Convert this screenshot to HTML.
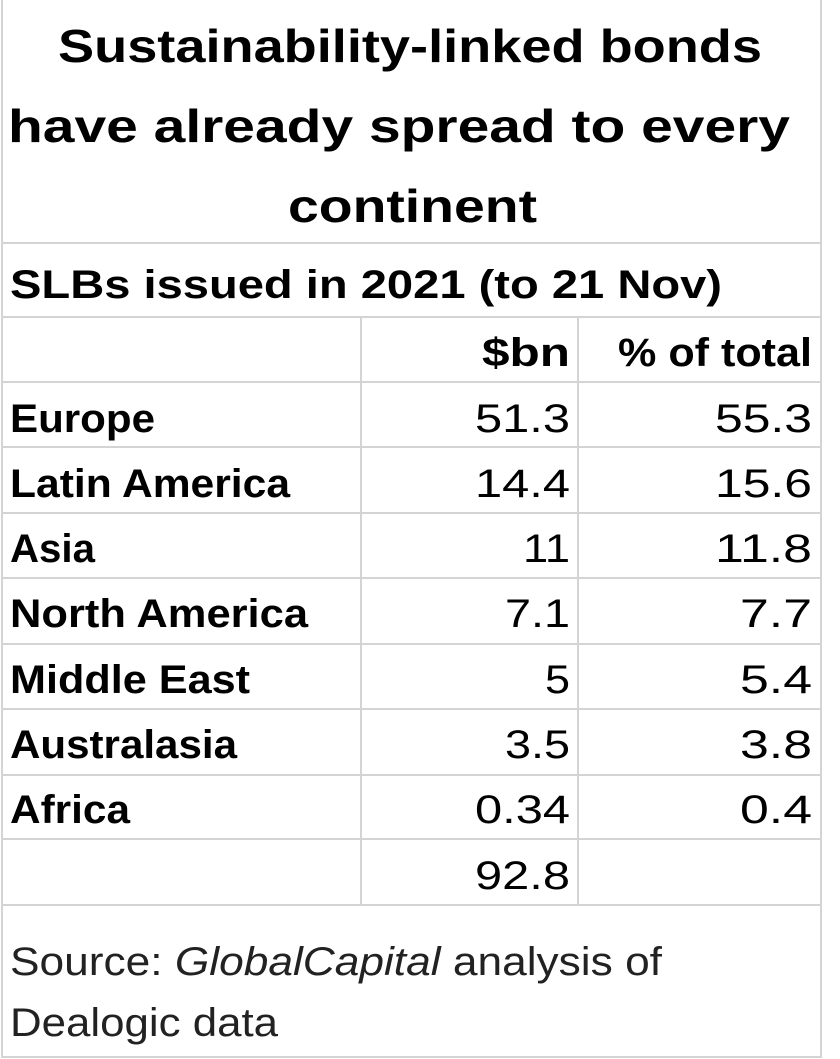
<!DOCTYPE html>
<html><head><style>html,body{margin:0;padding:0;background:#fff}svg{display:block}</style></head>
<body>
<svg width="840" height="1059" xmlns="http://www.w3.org/2000/svg" font-family="Liberation Sans, sans-serif" fill="#000">
<g stroke="#d4d4d4" stroke-width="2">
<line x1="2" y1="0" x2="2" y2="1058"/>
<line x1="821" y1="0" x2="821" y2="1058"/>
<line x1="2" y1="1057" x2="821" y2="1057"/>
<line x1="2" y1="243" x2="821" y2="243"/>
<line x1="2" y1="317" x2="821" y2="317"/>
<line x1="2" y1="382" x2="821" y2="382"/>
<line x1="2" y1="447" x2="821" y2="447"/>
<line x1="2" y1="513" x2="821" y2="513"/>
<line x1="2" y1="578" x2="821" y2="578"/>
<line x1="2" y1="644" x2="821" y2="644"/>
<line x1="2" y1="709" x2="821" y2="709"/>
<line x1="2" y1="775" x2="821" y2="775"/>
<line x1="2" y1="839" x2="821" y2="839"/>
<line x1="2" y1="905" x2="821" y2="905"/>
<line x1="361" y1="317" x2="361" y2="905"/>
<line x1="578" y1="317" x2="578" y2="905"/>
</g>
<g font-weight="bold" font-size="46">
<text x="58" y="62" textLength="704" lengthAdjust="spacingAndGlyphs">Sustainability-linked bonds</text>
<text x="8" y="142" textLength="782" lengthAdjust="spacingAndGlyphs">have already spread to every</text>
<text x="288" y="222" textLength="249" lengthAdjust="spacingAndGlyphs">continent</text>
</g>
<g font-weight="bold" font-size="40">
<text x="10" y="298" textLength="712" lengthAdjust="spacingAndGlyphs">SLBs issued in 2021 (to 21 Nov)</text>
<text x="482" y="366" textLength="88" lengthAdjust="spacingAndGlyphs">$bn</text>
<text x="618" y="366" textLength="194" lengthAdjust="spacingAndGlyphs">% of total</text>
<text x="10" y="432" textLength="145" lengthAdjust="spacingAndGlyphs">Europe</text>
<text x="10" y="497" textLength="280" lengthAdjust="spacingAndGlyphs">Latin America</text>
<text x="10" y="562" textLength="85" lengthAdjust="spacingAndGlyphs">Asia</text>
<text x="10" y="627" textLength="298" lengthAdjust="spacingAndGlyphs">North America</text>
<text x="10" y="693" textLength="240" lengthAdjust="spacingAndGlyphs">Middle East</text>
<text x="10" y="758" textLength="227" lengthAdjust="spacingAndGlyphs">Australasia</text>
<text x="10" y="823" textLength="120" lengthAdjust="spacingAndGlyphs">Africa</text>
</g>
<g font-size="40">
<text x="475" y="432" textLength="95" lengthAdjust="spacingAndGlyphs">51.3</text>
<text x="475" y="497" textLength="95" lengthAdjust="spacingAndGlyphs">14.4</text>
<text x="523" y="562" textLength="47" lengthAdjust="spacingAndGlyphs">11</text>
<text x="505" y="627" textLength="65" lengthAdjust="spacingAndGlyphs">7.1</text>
<text x="545" y="693" textLength="25" lengthAdjust="spacingAndGlyphs">5</text>
<text x="505" y="758" textLength="65" lengthAdjust="spacingAndGlyphs">3.5</text>
<text x="475" y="823" textLength="95" lengthAdjust="spacingAndGlyphs">0.34</text>
<text x="475" y="889" textLength="95" lengthAdjust="spacingAndGlyphs">92.8</text>
<text x="715" y="432" textLength="97" lengthAdjust="spacingAndGlyphs">55.3</text>
<text x="715" y="497" textLength="97" lengthAdjust="spacingAndGlyphs">15.6</text>
<text x="715" y="562" textLength="97" lengthAdjust="spacingAndGlyphs">11.8</text>
<text x="740" y="627" textLength="72" lengthAdjust="spacingAndGlyphs">7.7</text>
<text x="740" y="693" textLength="72" lengthAdjust="spacingAndGlyphs">5.4</text>
<text x="740" y="758" textLength="72" lengthAdjust="spacingAndGlyphs">3.8</text>
<text x="740" y="823" textLength="72" lengthAdjust="spacingAndGlyphs">0.4</text>
<text x="10" y="975" fill="#222" textLength="652" lengthAdjust="spacingAndGlyphs">Source: <tspan font-style="italic">GlobalCapital</tspan>  analysis of</text>
<text x="10" y="1036" fill="#222" textLength="268" lengthAdjust="spacingAndGlyphs">Dealogic data</text>
</g>
</svg>
</body></html>
